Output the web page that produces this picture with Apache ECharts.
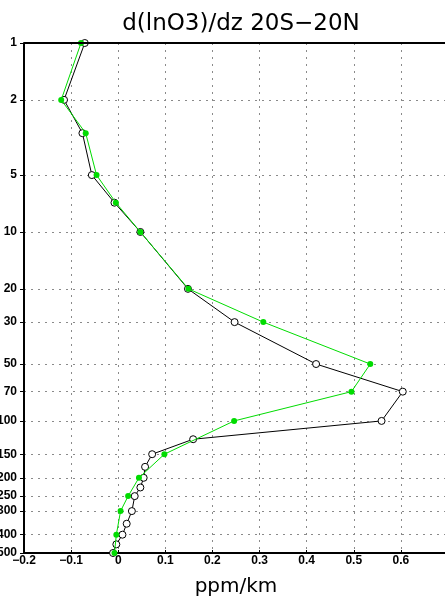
<!DOCTYPE html>
<html>
<head>
<meta charset="utf-8">
<script src="https://cdn.jsdelivr.net/npm/echarts@6/dist/echarts.min.js"></script>
<style>html,body{margin:0;padding:0;background:#fff;}#c{width:445px;height:600px;}</style>
</head>
<body>
<div id="c"></div>
<script>
// Pressure levels (hPa) and values (ppm/km)
const blackLevels = [1, 2, 3, 5, 7, 10, 20, 30, 50, 70, 100, 125, 150, 175, 200, 225, 250, 300, 350, 400, 450, 500];
const blackValues = [-0.071, -0.115, -0.076, -0.056, -0.008, 0.047, 0.148, 0.247, 0.42, 0.604, 0.559, 0.159, 0.072, 0.057, 0.054, 0.047, 0.035, 0.029, 0.018, 0.009, -0.004, -0.011];
const greenLevels = [1, 2, 3, 5, 7, 10, 20, 30, 50, 70, 100, 150, 200, 250, 300, 400, 500];
const greenValues = [-0.079, -0.121, -0.069, -0.046, -0.005, 0.047, 0.149, 0.308, 0.535, 0.495, 0.246, 0.098, 0.044, 0.021, 0.005, -0.004, -0.008];
const yTickLabels = [1, 2, 5, 10, 20, 30, 50, 70, 100, 150, 200, 250, 300, 400, 500];
const xTicks = [-0.2, -0.1, 0, 0.1, 0.2, 0.3, 0.4, 0.5, 0.6];

const lg = v => Math.log10(v);
const toPairs = (vals, levels) => vals.map((v, i) => [v, lg(levels[i])]);
const yCustom = yTickLabels.map(lg);

const chart = echarts.init(document.getElementById('c'), null, {renderer: 'canvas'});
const gridStyle = {show: true, lineStyle: {color: '#8a8a8a', width: 1, type: [2, 5]}};
chart.setOption({
  animation: false,
  backgroundColor: '#fff',
  title: {
    text: 'd(lnO3)/dz 20S\u221220N',
    left: 236, top: 8, textAlign: 'center',
    textStyle: {fontFamily: 'DejaVu Sans', fontSize: 23, fontWeight: 'normal', color: '#000'}
  },
  grid: {left: 24, right: -3, top: 43, bottom: 47, containLabel: false, outerBoundsMode: 'none'},
  xAxis: {
    type: 'value', min: -0.2, max: 0.7, interval: 0.1,
    name: 'ppm/km', nameLocation: 'middle', nameGap: 24,
    nameTextStyle: {fontFamily: 'DejaVu Sans', fontSize: 20, color: '#000'},
    axisLine: {show: true, onZero: false, lineStyle: {color: '#000', width: 2}},
    axisTick: {show: true, inside: true, length: 3, lineStyle: {color: '#000', width: 1}},
    axisLabel: {
      show: true, margin: 2, color: '#000', fontFamily: 'Liberation Sans', fontWeight: 'bold', fontSize: 12,
      customValues: xTicks,
      formatter: v => { const r = Math.round(v * 10) / 10; if (r === 0) return '0'; return (r < 0 ? '\u2212' : '') + Math.abs(r).toFixed(1); }
    },
    splitLine: gridStyle
  },
  yAxis: {
    type: 'value', inverse: true, min: 0, max: lg(500),
    axisLine: {show: true, onZero: false, lineStyle: {color: '#000', width: 2}},
    axisTick: {show: true, length: 4, customValues: yCustom, lineStyle: {color: '#000', width: 1}},
    axisLabel: {
      show: true, margin: 7, color: '#000', fontFamily: 'Liberation Sans', fontWeight: 'bold', fontSize: 12,
      customValues: yCustom,
      formatter: v => String(Math.round(Math.pow(10, v)))
    },
    splitLine: gridStyle
  },
  series: [
    {
      type: 'line', data: toPairs(blackValues, blackLevels),
      lineStyle: {color: '#000', width: 1},
      symbol: 'circle', symbolSize: 7,
      itemStyle: {color: '#fff', borderColor: '#000', borderWidth: 1},
      z: 3
    },
    {
      type: 'line', data: toPairs(greenValues, greenLevels),
      lineStyle: {color: '#00dc00', width: 1},
      symbol: 'circle', symbolSize: 6,
      itemStyle: {color: '#00dc00', borderWidth: 0},
      z: 4
    }
  ],
  graphic: [
    {type: 'line', shape: {x1: 24, y1: 43, x2: 445, y2: 43}, style: {stroke: '#000', lineWidth: 2}, z: 10}
  ]
});
</script>
</body>
</html>
